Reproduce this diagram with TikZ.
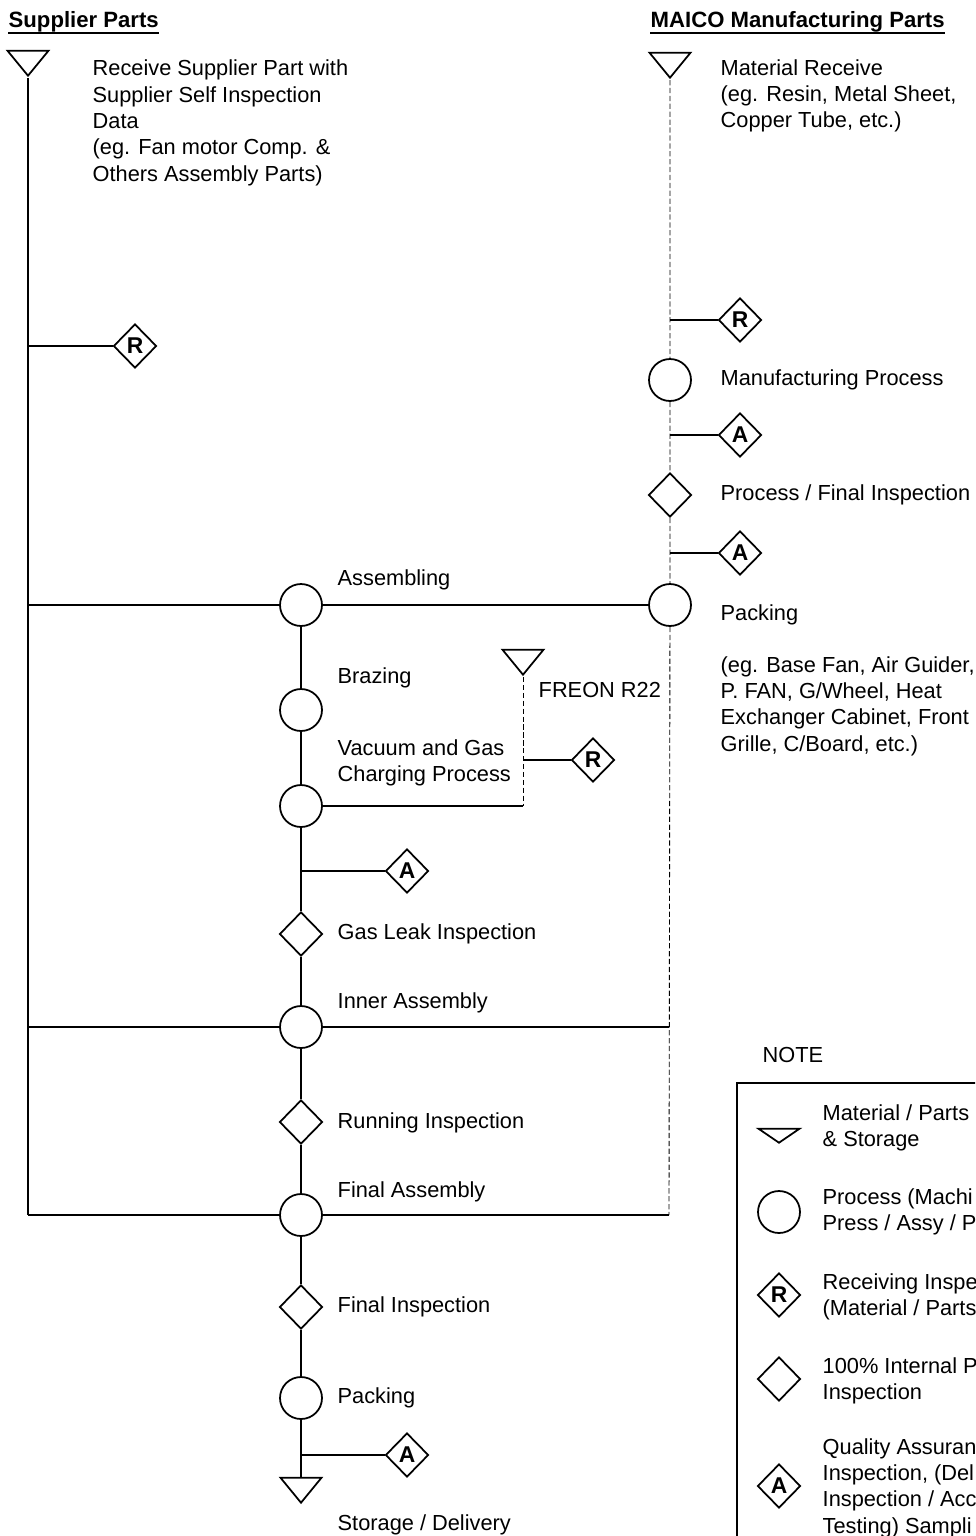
\documentclass[tikz,border=0pt]{standalone}
\usepackage{fontspec}
\setmainfont{Liberation Sans}
\usetikzlibrary{shapes.geometric}

\begin{document}
\begin{tikzpicture}[x=0.02cm, y=-0.02cm, font=\fontsize{12.4}{15}\selectfont, line width=0.8pt,
  proc/.style={circle, draw, line width=1pt, inner sep=0pt, minimum size=0.84cm},
  chk/.style={diamond, draw, line width=1pt, inner sep=0pt, minimum width=0.86cm, minimum height=0.88cm},
  qa/.style={chk, font=\fontsize{13}{13}\selectfont\bfseries},
  stor/.style={isosceles triangle, isosceles triangle stretches, draw, line width=1pt, inner sep=0pt, minimum width=0.82cm, minimum height=0.5cm, rotate=-90},
  txt/.style={anchor=west, align=left, inner sep=0pt},
  hdr/.style={anchor=base west, inner sep=0pt, font=\fontsize{12.6}{15}\selectfont\bfseries},
  dotline/.style={line width=0.5pt, dash pattern=on 3pt off 1.5pt}]
\useasboundingbox (0,0) rectangle (975,1536);
\clip (0,0) rectangle (975,1536);
% headers
\node[hdr] (hsup) at (8,27) {Supplier Parts}; \draw ([yshift=-3.5pt]hsup.base west) -- ([yshift=-3.5pt]hsup.base east);
\node[hdr] (hmai) at (650,27) {MAICO Manufacturing Parts}; \draw ([yshift=-3.5pt]hmai.base west) -- ([yshift=-3.5pt]hmai.base east);
% supplier parts
\node[stor, anchor=apex] (sup) at (28,78) {};
\node[txt] (tsup) at (92,123) {Receive Supplier Part with\\Supplier Self Inspection\\Data\\(eg. Fan motor Comp. \&\\Others Assembly Parts)};
\coordinate (sbot) at (28,1215); \draw[line width=1.3pt] (sup.apex) -- (sbot);
\node[qa] (r1) at (135,346) {R}; \coordinate (b1) at (28,346); \draw (b1) -- (r1);
% MAICO parts
\node[stor, anchor=apex] (mat) at (670,80) {};
\node[txt] (tmat) at (720,96) {Material Receive\\(eg. Resin, Metal Sheet,\\Copper Tube, etc.)};
\node[qa] (r2) at (740,320) {R};
\node[proc] (mfg) at (670,380) {}; \node[txt] (tmfg) at (720,380) {Manufacturing Process};
\node[qa] (a1) at (740,435) {A};
\node[chk] (fin1) at (670,495) {}; \node[txt] (tfin1) at (720,495) {Process / Final Inspection};
\node[qa] (a2) at (740,553) {A};
\node[proc] (pk1) at (670,605) {}; \node[txt] (tpk1) at (720,615) {Packing};
\node[txt] (teg) at (720,706) {(eg. Base Fan, Air Guider,\\P. FAN, G/Wheel, Heat\\Exchanger Cabinet, Front\\Grille, C/Board, etc.)};
\coordinate (mbot) at (669,1215);
\draw[dotline] (mat.apex) -- (mfg) (mfg) -- (fin1) (fin1) -- (pk1) (pk1) -- (mbot);
\coordinate (m1) at (670,320); \coordinate (m2) at (670,435); \coordinate (m3) at (670,553);
\draw (m1) -- (r2) (m2) -- (a1) (m3) -- (a2);
% main line
\node[proc] (asm) at (301,605) {}; \node[txt] (tasm) at (337,580) {Assembling};
\coordinate (b2) at (28,605); \draw (b2) -- (asm) (asm) -- (pk1);
\node[proc] (brz) at (301,710) {}; \node[txt] (tbrz) at (337,678) {Brazing};
\node[proc] (vac) at (301,806) {}; \node[txt] (tvac) at (337,763) {Vacuum and Gas\\Charging Process};
\node[stor, anchor=apex] (frn) at (523,677) {}; \node[txt] (tfrn) at (538,690) {FREON R22};
\node[qa] (r3) at (593,760) {R};
\coordinate (fc) at (523,806); \coordinate (fb) at (523,760);
\draw[dotline] (frn.apex) -- (fc); \draw (fc) -- (vac) (fb) -- (r3);
\node[qa] (a3) at (407,871) {A}; \coordinate (b3) at (301,871); \draw (b3) -- (a3);
\node[chk] (gas) at (301,934) {}; \node[txt] (tgas) at (337,934) {Gas Leak Inspection};
\node[proc] (inr) at (301,1027) {}; \node[txt] (tinr) at (337,1003) {Inner Assembly};
\coordinate (b4) at (28,1027); \coordinate (m4) at (669,1027); \draw (b4) -- (inr) (inr) -- (m4);
\node[chk] (run) at (301,1122) {}; \node[txt] (trun) at (337,1123) {Running Inspection};
\node[proc] (fas) at (301,1215) {}; \node[txt] (tfas) at (337,1192) {Final Assembly};
\draw (sbot) -- (fas) (fas) -- (mbot);
\node[chk] (fin2) at (301,1307) {}; \node[txt] (tfin2) at (337,1307) {Final Inspection};
\node[proc] (pk2) at (301,1398) {}; \node[txt] (tpk2) at (337,1398) {Packing};
\node[qa] (a4) at (407,1455) {A}; \coordinate (b5) at (301,1455); \draw (b5) -- (a4);
\node[stor, anchor=apex] (sto) at (301,1505) {}; \node[txt] (tsto) at (337,1525) {Storage / Delivery};
\draw (asm) -- (brz) (brz) -- (vac) (vac) -- (gas) (gas) -- (inr) (inr) -- (run) (run) -- (fas) (fas) -- (fin2) (fin2) -- (pk2) (pk2) -- (sto);
% note
\node[txt] (note) at (762,1055) {NOTE};
\draw (737,1083) rectangle (1000,1600);
\node[stor, anchor=apex, minimum height=0.28cm] (ls) at (779,1145) {}; \node[txt] at (822,1128) {Material / Parts\\\& Storage};
\node[proc] (lp) at (779,1212) {}; \node[txt] at (822,1212) {Process (Machi\\Press / Assy / P};
\node[qa] (lr) at (779,1295) {R}; \node[txt] at (822,1297) {Receiving Inspe\\(Material / Parts};
\node[chk] (lc) at (779,1379) {}; \node[txt] at (822,1381) {100\% Internal P\\Inspection};
\node[qa] (la) at (779,1486) {A}; \node[txt] at (822,1488) {Quality Assuran\\Inspection, (Del\\Inspection / Acc\\Testing) Sampli};
\end{tikzpicture}
\end{document}
